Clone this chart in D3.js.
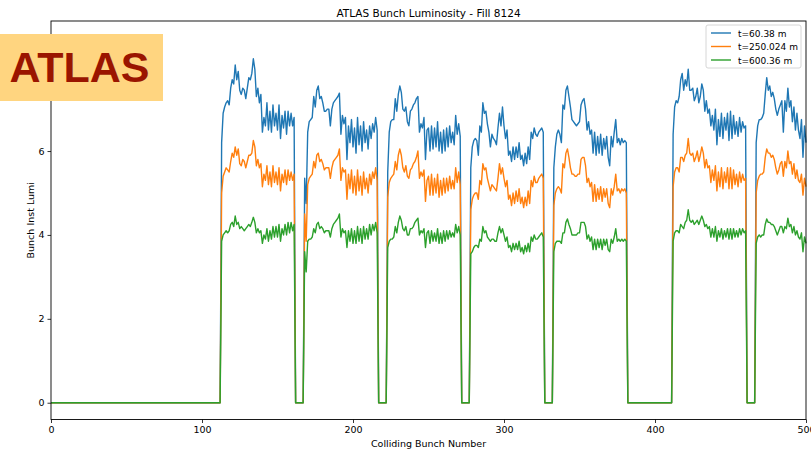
<!DOCTYPE html>
<html>
<head>
<meta charset="utf-8">
<script src="https://cdn.jsdelivr.net/npm/d3@7"></script>
<style>
  body { margin: 0; background: #fff; }
  svg { display: block; }
  text { font-family: "DejaVu Sans", sans-serif; fill: #000; }
</style>
</head>
<body>
<div id="chart"></div>
<script>
// first colliding bunch of each train
const trainStarts = [113, 168, 223, 278, 333, 412, 467];

// t=60.38 m, one value per bunch in each train
const lumiT60 = [
  [6.2,6.9,7.05,7.15,7.2,7.1,7.5,7.7,7.6,8.05,7.7,7.9,7.45,7.35,7.5,7.45,7.25,7.5,7.75,7.7,7.85,8.2,7.95,7.3,7.5,7.15,7.35,6.45,6.8,6.6,7.15,6.5,6.95,6.45,7.1,6.6,6.9,6.5,7.1,6.3,6.85,6.55,6.95,6.4,6.95,6.6,6.9,6.6,6.8],
  [5.35,4.75,6.45,6.7,6.75,6.8,7.3,7.05,7.45,7.55,7.25,7.3,7.15,6.95,6.95,7.0,7.0,6.6,7.0,7.15,7.2,7.25,7.3,7.38,6.4,6.85,6.65,6.8,5.8,6.6,6.2,6.75,6.1,6.55,5.95,6.8,6.15,6.6,6.0,6.7,6.2,6.5,6.05,6.6,6.3,6.65,6.45,6.8,6.5],
  [5.5,6.45,6.7,6.75,6.75,7.25,6.95,7.35,7.55,7.4,7.0,6.95,7.05,6.7,6.6,6.95,7.0,7.1,7.15,7.25,7.3,6.45,6.65,6.55,6.8,5.8,6.5,6.55,6.0,6.6,6.05,6.55,6.1,6.7,6.0,6.45,5.95,6.5,6.0,6.55,6.1,6.6,6.2,6.45,6.15,6.85,6.4,6.65,6.35],
  [5.6,6.1,6.25,6.3,6.25,5.9,6.6,6.45,7.15,6.9,6.95,6.65,6.45,6.1,6.4,6.3,6.25,6.15,6.55,6.9,6.6,7.05,6.6,6.3,6.5,5.9,6.0,5.75,6.1,5.8,6.1,5.85,6.2,5.8,5.9,5.65,5.95,5.7,6.1,5.8,6.45,6.3,6.55,6.4,6.35,6.45,6.5,6.55,6.45],
  [5.6,6.1,6.4,6.5,6.4,6.2,7.1,7.0,7.45,7.55,7.3,7.05,6.75,6.7,6.65,6.6,6.65,6.7,7.1,7.2,7.25,7.0,6.5,6.7,6.4,6.5,5.95,6.45,5.9,6.35,5.95,6.4,5.9,6.3,6.05,6.35,5.85,5.65,6.35,6.1,6.45,6.75,6.2,6.3,6.15,6.3,6.2,6.25,6.2],
  [6.4,7.05,7.2,7.15,7.3,7.7,7.85,7.45,7.7,7.55,7.95,7.45,7.45,7.5,7.2,7.3,7.5,7.15,7.3,7.6,7.45,6.95,7.2,6.9,7.0,6.6,6.85,6.5,7.0,6.15,6.75,6.35,6.9,6.3,6.8,6.5,6.9,6.25,6.95,6.3,6.85,6.4,6.7,6.35,6.8,6.45,6.7,6.55,6.6],
  [6.2,6.6,6.75,6.75,6.8,6.9,7.35,7.75,7.45,7.55,7.3,7.4,7.25,7.0,6.85,7.0,7.1,7.2,6.45,7.2,6.95,7.5,7.05,7.2,6.7,7.05,6.5,6.9,6.5,6.3,6.75,5.85,6.6,6.2]
];

// t=250.024 m
const lumiT250 = [
  [5.0,5.4,5.5,5.6,5.55,5.5,5.75,5.95,5.85,6.1,5.9,6.05,5.7,5.65,5.8,5.75,5.6,5.75,5.9,5.9,5.95,6.25,6.1,5.65,5.8,5.6,5.7,5.15,5.45,5.3,5.65,5.2,5.5,5.15,5.65,5.25,5.5,5.2,5.6,5.05,5.45,5.25,5.55,5.2,5.55,5.3,5.5,5.3,5.45],
  [4.5,3.85,5.2,5.35,5.4,5.45,5.75,5.6,5.9,5.95,5.75,5.8,5.7,5.55,5.6,5.6,5.6,5.35,5.6,5.75,5.8,5.85,5.9,6.05,5.3,5.6,5.5,5.55,4.85,5.45,5.1,5.55,5.0,5.4,4.95,5.55,5.05,5.4,4.95,5.5,5.1,5.35,5.0,5.45,5.2,5.5,5.35,5.6,5.3],
  [4.9,5.25,5.35,5.4,5.45,5.75,5.55,5.9,6.05,5.9,5.6,5.5,5.65,5.4,5.35,5.55,5.6,5.7,5.75,5.85,6.0,5.35,5.5,5.4,5.55,4.8,5.3,5.4,4.95,5.45,4.95,5.35,5.0,5.45,4.9,5.3,4.95,5.35,5.0,5.35,5.05,5.4,5.1,5.3,5.1,5.6,5.25,5.5,5.2],
  [4.6,4.85,4.95,5.0,5.0,4.85,5.3,5.2,5.7,5.55,5.6,5.35,5.2,5.05,5.2,5.15,5.1,5.05,5.35,5.7,5.45,5.6,5.35,5.15,5.3,4.85,4.95,4.7,5.0,4.75,5.05,4.8,5.1,4.75,4.9,4.65,4.9,4.7,5.05,4.75,5.3,5.15,5.4,5.25,5.25,5.35,5.4,5.45,5.35],
  [4.7,5.0,5.1,5.15,5.1,5.0,5.7,5.6,5.95,6.05,5.85,5.6,5.45,5.45,5.4,5.4,5.45,5.45,5.8,5.85,5.85,5.65,5.25,5.35,5.15,5.25,4.8,5.2,4.8,5.1,4.85,5.15,4.8,5.1,4.9,5.1,4.75,4.65,5.1,4.95,5.15,5.45,5.05,5.1,5.0,5.1,5.05,5.1,5.0],
  [5.15,5.5,5.6,5.6,5.5,5.85,5.85,5.75,5.9,5.95,6.3,5.95,5.9,5.95,5.75,5.85,6.0,5.75,5.9,6.1,5.95,5.6,5.8,5.6,5.65,5.25,5.55,5.3,5.65,5.05,5.5,5.15,5.6,5.1,5.5,5.25,5.6,5.1,5.6,5.1,5.55,5.2,5.45,5.15,5.5,5.25,5.45,5.3,5.35],
  [5.0,5.3,5.4,5.45,5.45,5.5,5.85,6.05,5.95,5.95,5.85,5.9,5.8,5.6,5.45,5.55,5.7,5.75,5.4,5.75,5.6,6.0,5.7,5.75,5.45,5.7,5.35,5.55,5.3,5.25,5.45,4.95,5.35,5.15]
];

// t=600.36 m
const lumiT600 = [
  [3.85,4.0,4.05,4.1,4.05,4.1,4.25,4.3,4.2,4.45,4.25,4.3,4.15,4.2,4.15,4.1,4.15,4.2,4.25,4.2,4.3,4.42,4.3,4.05,4.15,4.05,4.1,3.8,4.0,3.9,4.15,3.85,4.1,3.9,4.2,3.95,4.2,3.95,4.25,3.85,4.15,4.0,4.25,4.0,4.3,4.05,4.3,4.1,4.25],
  [3.6,3.12,3.85,3.9,3.9,3.95,4.15,4.05,4.25,4.3,4.15,4.2,4.15,4.05,4.1,4.1,4.1,3.95,4.15,4.25,4.3,4.35,4.4,4.5,3.95,4.15,4.05,4.1,3.7,4.1,3.85,4.15,3.8,4.1,3.8,4.2,3.85,4.15,3.8,4.2,3.9,4.15,3.9,4.25,4.0,4.25,4.1,4.3,4.05],
  [3.7,3.85,3.9,3.9,3.95,4.2,4.05,4.3,4.45,4.35,4.15,4.1,4.2,4.0,4.0,4.15,4.15,4.2,4.3,4.35,4.4,4.0,4.1,4.05,4.15,3.7,4.05,4.1,3.8,4.1,3.85,4.05,3.85,4.15,3.8,4.05,3.8,4.1,3.85,4.1,3.9,4.1,3.95,4.05,3.95,4.25,4.05,4.2,4.0],
  [3.55,3.6,3.7,3.75,3.75,3.7,3.9,3.85,4.2,4.05,4.1,3.95,3.9,3.85,3.9,3.9,3.85,3.85,4.05,4.2,4.05,4.15,4.0,3.85,3.95,3.7,3.75,3.6,3.8,3.65,3.8,3.65,3.85,3.6,3.7,3.55,3.75,3.6,3.8,3.6,3.95,3.85,4.0,3.9,3.9,3.95,4.0,4.05,3.95],
  [3.6,3.8,3.85,3.85,3.85,3.8,4.05,4.05,4.3,4.38,4.25,4.15,4.0,4.0,4.0,4.0,4.05,4.05,4.3,4.3,4.3,4.2,3.9,4.0,3.85,3.95,3.65,3.9,3.65,3.9,3.7,3.9,3.65,3.9,3.75,3.9,3.65,3.6,3.9,3.8,3.95,4.15,3.85,3.9,3.85,3.9,3.85,3.9,3.85],
  [3.85,4.05,4.1,4.1,4.05,4.25,4.2,4.15,4.3,4.35,4.6,4.35,4.3,4.35,4.25,4.3,4.35,4.25,4.35,4.45,4.35,4.2,4.25,4.15,4.2,3.95,4.15,3.95,4.2,3.85,4.1,3.95,4.15,3.9,4.1,3.95,4.15,3.9,4.15,3.9,4.15,3.95,4.1,3.95,4.15,4.0,4.15,4.05,4.1],
  [3.8,3.95,4.0,3.95,4.0,4.0,4.25,4.38,4.3,4.3,4.25,4.25,4.2,4.1,4.0,4.1,4.2,4.2,4.05,4.2,4.15,4.4,4.2,4.25,4.05,4.2,4.0,4.1,3.95,3.9,4.05,3.6,3.95,3.8]
];

const seriesNames = ["t=60.38 m", "t=250.024 m", "t=600.36 m"];
const seriesColors = ["#1f77b4", "#ff7f0e", "#2ca02c"];
const lastBunch = 500;
const xTicks = [0, 100, 200, 300, 400, 500];
const yTicks = [0, 2, 4, 6]; // the 8 tick sits under the ATLAS box

// every bunch 0..500; bunches outside the trains read 0
function bunchSeries(trains) {
  const vals = new Array(lastBunch + 1).fill(0);
  trains.forEach((t, i) => t.forEach((v, j) => {
    if (trainStarts[i] + j <= lastBunch) vals[trainStarts[i] + j] = v;
  }));
  return vals.map((v, b) => ({ bunch: b, lumi: v }));
}
const series = [lumiT60, lumiT250, lumiT600].map(bunchSeries);

/* svg setup */
const W = 811, H = 450;
const margin = { top: 21, right: 5, bottom: 30.5, left: 51 };
const width = W - margin.left - margin.right;
const height = H - margin.top - margin.bottom;

const svgRoot = d3.select("#chart").append("svg")
  .attr("width", W).attr("height", H);

const svg = svgRoot.append("g")
  .attr("transform", `translate(${margin.left},${margin.top})`);

const x = d3.scaleLinear().domain([0, lastBunch]).range([0, width]);
const y = d3.scaleLinear().domain([-0.4, 9.1]).range([height, 0]);

// lines
const line = d3.line().x(d => x(d.bunch)).y(d => y(d.lumi));
svg.append("g")
  .selectAll("path").data(series).join("path")
  .attr("d", line)
  .attr("fill", "none")
  .attr("stroke", (d, i) => seriesColors[i])
  .attr("stroke-width", 1.4)
  .attr("stroke-linejoin", "round");

// axes
const xAxis = svg.append("g")
  .attr("transform", `translate(0,${height})`)
  .call(d3.axisBottom(x).tickValues(xTicks).tickSize(3.5).tickPadding(3).tickSizeOuter(0));
const yAxis = svg.append("g")
  .call(d3.axisLeft(y).tickValues(yTicks).tickSize(3.5).tickPadding(3).tickSizeOuter(0));
[xAxis, yAxis].forEach(a => {
  a.select(".domain").remove();
  a.selectAll("text").attr("font-size", 9.5);
  a.selectAll("line").attr("stroke", "#000").attr("stroke-width", 0.8);
});

// frame
svg.append("rect")
  .attr("x", 0).attr("y", 0).attr("width", width).attr("height", height)
  .attr("fill", "none").attr("stroke", "#000").attr("stroke-width", 0.9);

// title and axis labels
svgRoot.append("text")
  .attr("x", margin.left + width / 2).attr("y", 16.5)
  .attr("text-anchor", "middle").attr("font-size", 10.5)
  .text("ATLAS Bunch Luminosity - Fill 8124");
svgRoot.append("text")
  .attr("x", margin.left + width / 2).attr("y", 447)
  .attr("text-anchor", "middle").attr("font-size", 9.5)
  .text("Colliding Bunch Number");
svgRoot.append("text")
  .attr("transform", `translate(34,${margin.top + height / 2}) rotate(-90)`)
  .attr("text-anchor", "middle").attr("font-size", 9.5)
  .text("Bunch Inst Lumi");

// legend
const legend = svgRoot.append("g").attr("transform", "translate(706,25)");
legend.append("rect")
  .attr("width", 95).attr("height", 43).attr("rx", 2)
  .attr("fill", "#fff").attr("fill-opacity", 0.85)
  .attr("stroke", "#ccc").attr("stroke-width", 0.8);
seriesNames.forEach((name, i) => {
  const row = legend.append("g").attr("transform", `translate(0,${8 + i * 13.5})`);
  row.append("line").attr("x1", 5).attr("x2", 25)
    .attr("stroke", seriesColors[i]).attr("stroke-width", 1.4);
  row.append("text").attr("x", 32).attr("y", 3.5)
    .attr("font-size", 9).text(name);
});

// ATLAS logo box
const logo = svgRoot.append("g");
logo.append("rect")
  .attr("x", 0).attr("y", 34).attr("width", 163).attr("height", 67)
  .attr("fill", "#ffd580");
logo.append("text")
  .attr("x", 79.5).attr("y", 82)
  .attr("text-anchor", "middle")
  .attr("font-size", 43)
  .style("font-family", "'Liberation Sans', Arial, sans-serif")
  .style("font-weight", "bold")
  .style("fill", "#9a1500")
  .text("ATLAS");
</script>
</body>
</html>
